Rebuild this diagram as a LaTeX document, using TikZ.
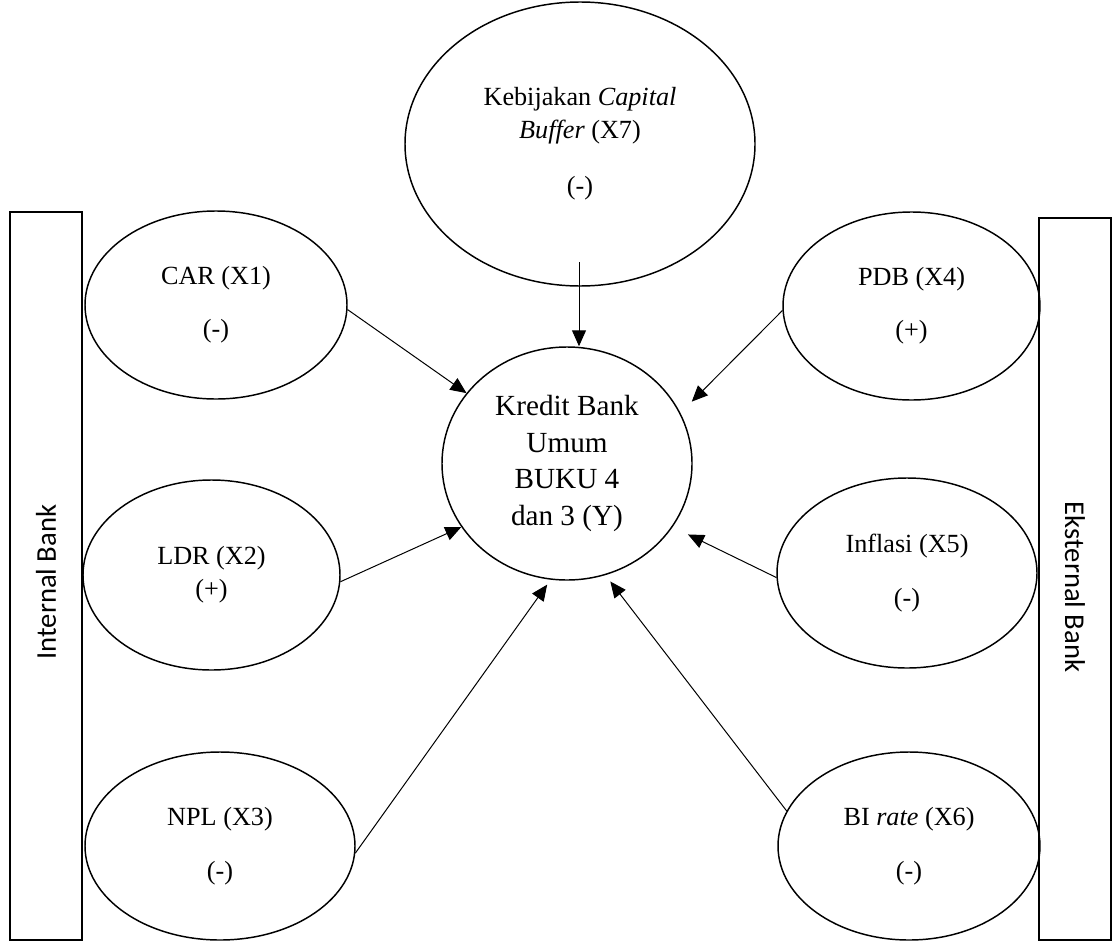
\documentclass[tikz,border=0pt]{standalone}
\usepackage{fontspec}
\setmainfont{Liberation Serif}
\newfontfamily\sidefont{Carlito}
\usetikzlibrary{shapes.geometric,arrows.meta}
\begin{document}
\begin{tikzpicture}[x=0.75pt,y=-0.75pt,
  ell/.style={draw,ellipse,line width=1.1pt,inner sep=0pt,align=center,
    font=\fontsize{19.65pt}{24.75pt}\selectfont},
  sidebox/.style={draw,line width=1.1pt,inner sep=0pt,minimum width=54pt},
  sidetext/.style={inner sep=0pt,font=\sidefont\fontsize{21.5pt}{25pt}\selectfont},
  arr/.style={line width=0.75pt,-{Triangle[length=12pt,width=10.5pt]}}]
\useasboundingbox (0,0) rectangle (1113,942);
% side boxes
\node[sidebox,minimum height=546pt] (ib) at (46,576) {};
\node[sidetext,rotate=90] (ibt) at (46,582) {Internal Bank};
\node[sidebox,minimum height=541.5pt] (eb) at (1075,579) {};
\node[sidetext,rotate=-90] (ebt) at (1075,587) {Eksternal Bank};
% ellipses
\node[ell,minimum width=262.5pt,minimum height=213pt] (x7) at (580,144)
  {Kebijakan \textit{Capital}\\ \textit{Buffer} (X7)\\[17pt] (-)};
\node[ell,minimum width=187.5pt,minimum height=174.75pt,
  font=\fontsize{21.9pt}{27.5pt}\selectfont] (y) at (567,463.5)
  {Kredit Bank\\ Umum\\ BUKU 4\\ dan 3 (Y)};
\node[ell,minimum width=196.5pt,minimum height=141pt] (car) at (216,305)
  {CAR (X1)\\[15pt] (-)};
\node[ell,minimum width=192.75pt,minimum height=142.5pt] (ldr) at (211.5,575)
  {LDR (X2)\\ (+)};
\node[ell,minimum width=202.5pt,minimum height=141pt] (npl) at (220,846)
  {NPL (X3)\\[16pt] (-)};
\node[ell,minimum width=192.75pt,minimum height=141pt] (pdb) at (911.5,306)
  {PDB (X4)\\[15pt] (+)};
\node[ell,minimum width=195pt,minimum height=142.5pt] (inf) at (907,573)
  {Inflasi (X5)\\[16pt] (-)};
\node[ell,minimum width=196.5pt,minimum height=141pt] (bi) at (909,846)
  {BI \textit{rate} (X6)\\[16pt] (-)};
% connectors
\coordinate (x7s) at (579,262);
\draw[arr] (x7s) -- (x7s |- y.north);
\draw[arr] (car.-2.2) -- (y.145.7);
\draw[arr] (ldr.-3.6) -- (y.211.2);
\draw[arr,shorten >=4.5pt] (npl.-3) -- (y.262);
\draw[arr,shorten >=6pt] (bi.164.9) -- (y.289);
\draw[arr,shorten >=12.75pt] (inf.182.2) -- (y.329.2);
\draw[arr,shorten >=12pt] (pdb.182.7) -- (y.24.9);
\end{tikzpicture}
\end{document}
